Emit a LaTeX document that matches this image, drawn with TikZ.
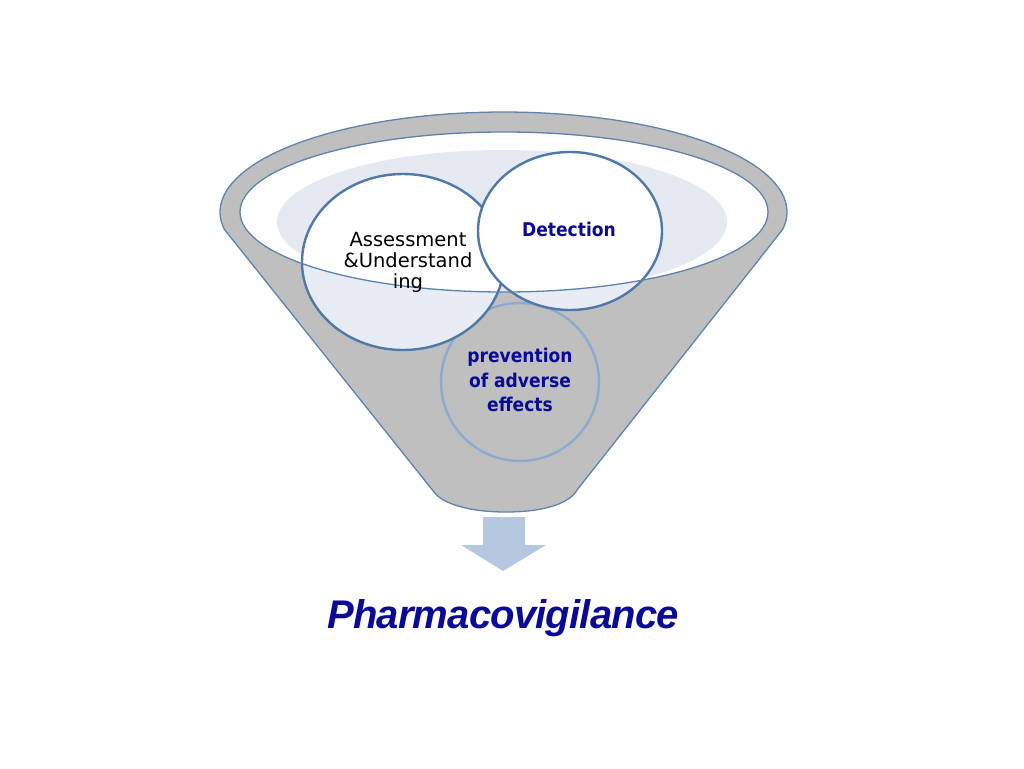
\documentclass[tikz,border=0pt]{standalone}
\usepackage{fontspec}
\setmainfont{DejaVu Sans}
\newfontfamily\titlefont[LetterSpace=-2]{Liberation Sans}
\newfontfamily\condfont{DejaVu Sans Condensed}
\begin{document}
\begin{tikzpicture}[x=1pt,y=-1pt,
  funnelcol/.style={fill=fgray,draw=rimblue,line width=1.3pt},
  circline/.style={draw=cblue,line width=2.4pt},
  lbl/.style={align=center,inner sep=0pt}]
\definecolor{fgray}{HTML}{BFBFBF}
\definecolor{rimblue}{HTML}{5F82AE}
\definecolor{cblue}{HTML}{5079AA}
\definecolor{pblue}{HTML}{8EAAD0}
\definecolor{liquid}{HTML}{E4E9F2}
\definecolor{ctint}{HTML}{E8EDF5}
\definecolor{arrowcol}{HTML}{B6C7E0}
\definecolor{navy}{HTML}{0A0A96}
\useasboundingbox (0,0) rectangle (1024,768);
% funnel body + outer rim
\path[funnelcol] plot[domain=170:370,samples=90] ({503.5+283.5*cos(\x)},{212+100*sin(\x)})
  -- (577,490) .. controls (570,503) and (545,512) .. (506,512)
  .. controls (467,512) and (442,503) .. (434,492) -- cycle;
% inner opening
\coordinate (ic) at (504,212);
\fill[white] (ic) ellipse[x radius=264,y radius=80];
\begin{scope}
  \clip (ic) ellipse[x radius=264,y radius=80];
  \fill[liquid] (502,222) ellipse[x radius=225,y radius=72];
\end{scope}
% prevention circle
\node[circle,minimum size=158pt,fill=fgray,draw=pblue,line width=2.4pt] (prev) at (520,382) {};
% assessment circle
\coordinate (ac) at (403,262);
\fill[ctint] (ac) ellipse[x radius=101,y radius=88];
\begin{scope}
  \clip (ic) ellipse[x radius=264,y radius=80];
  \fill[white] (ac) ellipse[x radius=101,y radius=88];
\end{scope}
\draw[circline] (ac) ellipse[x radius=101,y radius=88];
% detection circle
\coordinate (dc) at (570,231);
\fill[ctint] (dc) ellipse[x radius=92,y radius=79];
\begin{scope}
  \clip (ic) ellipse[x radius=264,y radius=80];
  \fill[white] (dc) ellipse[x radius=92,y radius=79];
\end{scope}
\draw[circline] (dc) ellipse[x radius=92,y radius=79];
% rim line on top
\draw[rimblue,line width=1.3pt] (ic) ellipse[x radius=264,y radius=80];
% labels
\node[lbl,font=\fontsize{19.5}{21}\selectfont] (assess) at (408,262) {Assessment\\\&Understand\\ing};
\node[lbl,font=\condfont\fontsize{19}{22}\selectfont\bfseries,text=navy] (detect) at (569,229) {Detection};
\node[lbl,font=\condfont\fontsize{19}{24.5}\selectfont\bfseries,text=navy] (prevtxt) at (520,380) {prevention\\of adverse\\effects};
% arrow
\fill[arrowcol] (483,517) -- (525,517) -- (525,545) -- (546,545) -- (503,571) -- (461,545) -- (483,545) -- cycle;
\coordinate (arrtip) at (503,571);
% title
\node[lbl,font=\titlefont\fontsize{40}{44}\selectfont\bfseries\itshape,text=navy,anchor=base] (title) at (503,628) {Pharmacovigilance};
\end{tikzpicture}
\end{document}
